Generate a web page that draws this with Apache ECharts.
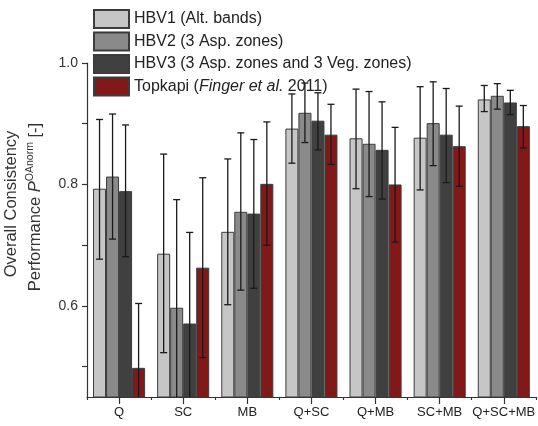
<!DOCTYPE html>
<html>
<head>
<meta charset="utf-8">
<script src="https://cdn.jsdelivr.net/npm/echarts@6/dist/echarts.min.js"></script>
<style>
  html, body { margin: 0; padding: 0; background: #fff; }
  #main { width: 538px; height: 426px; }
</style>
</head>
<body>
<div id="main"></div>
<script>
// categories and values
var categories = ['Q', 'SC', 'MB', 'Q+SC', 'Q+MB', 'SC+MB', 'Q+SC+MB'];
var seriesNames = ['HBV1 (Alt. bands)', 'HBV2 (3 Asp. zones)', 'HBV3 (3 Asp. zones and 3 Veg. zones)', 'Topkapi (Finger et al. 2011)'];

var hbv1 = [0.793, 0.686, 0.722, 0.892, 0.876, 0.877, 0.940];
var hbv1Low = [0.677, 0.523, 0.602, 0.835, 0.793, 0.791, 0.920];
var hbv1High = [0.907, 0.850, 0.842, 0.949, 0.957, 0.961, 0.963];

var hbv2 = [0.813, 0.597, 0.755, 0.918, 0.867, 0.901, 0.946];
var hbv2Low = [0.710, 0.419, 0.626, 0.869, 0.780, 0.831, 0.924];
var hbv2High = [0.916, 0.775, 0.885, 0.967, 0.953, 0.969, 0.966];

var hbv3 = [0.789, 0.571, 0.752, 0.905, 0.857, 0.882, 0.935];
var hbv3Low = [0.681, 0.421, 0.629, 0.857, 0.776, 0.803, 0.915];
var hbv3High = [0.898, 0.721, 0.874, 0.951, 0.936, 0.958, 0.955];

var topkapi = [0.498, 0.663, 0.801, 0.882, 0.800, 0.863, 0.896];
var topkapiLow = [0.392, 0.515, 0.700, 0.833, 0.705, 0.797, 0.860];
var topkapiHigh = [0.604, 0.811, 0.903, 0.932, 0.894, 0.929, 0.930];

var yTicks = [0.5, 0.6, 0.7, 0.8, 0.9, 1.0];
var yLabels = [0.6, 0.8, 1.0];

var colors = ['#c6c6c6', '#8a8a8a', '#404040', '#831818'];
var font = "'Liberation Sans', Arial, sans-serif";
var yMin = 0.45, yMax = 1.0;
var barFrac = 0.203;

var means = [hbv1, hbv2, hbv3, topkapi];
var lows = [hbv1Low, hbv2Low, hbv3Low, topkapiLow];
var highs = [hbv1High, hbv2High, hbv3High, topkapiHigh];

function errRender(k) {
  return function (params, api) {
    var c = api.value(0);
    var loRaw = api.value(1);
    var lo = Math.max(loRaw, yMin);
    var hi = api.value(2);
    var band = api.size([1, 0])[0];
    var bw = band * barFrac;
    var top = api.coord([c, hi]);
    var x = top[0] + (k - 1.5) * bw;
    var yHi = top[1];
    var yLo = api.coord([c, lo])[1];
    var cap = 3.5;
    var st = { stroke: '#1a1a1a', lineWidth: 1.3 };
    var kids = [
      { type: 'line', shape: { x1: x, y1: yHi, x2: x, y2: yLo }, style: st },
      { type: 'line', shape: { x1: x - cap, y1: yHi, x2: x + cap, y2: yHi }, style: st }
    ];
    if (loRaw >= yMin) {
      kids.push({ type: 'line', shape: { x1: x - cap, y1: yLo, x2: x + cap, y2: yLo }, style: st });
    }
    return { type: 'group', children: kids };
  };
}

var series = [];
for (var i = 0; i < 4; i++) {
  series.push({
    name: seriesNames[i],
    type: 'bar',
    xAxisIndex: 0,
    data: means[i],
    barWidth: (barFrac * 100) + '%',
    barGap: '0%',
    itemStyle: { color: colors[i], borderColor: '#3c3c3c', borderWidth: 1 },
    z: 2
  });
}
for (var k = 0; k < 4; k++) {
  var d = [];
  for (var j = 0; j < categories.length; j++) d.push([j, lows[k][j], highs[k][j]]);
  series.push({
    type: 'custom',
    xAxisIndex: 0,
    renderItem: errRender(k),
    data: d,
    encode: { x: 0, y: [1, 2] },
    z: 5,
    silent: true
  });
}

var chart = echarts.init(document.getElementById('main'));
chart.setOption({
  animation: false,
  backgroundColor: '#fff',
  grid: { left: 87, top: 63, width: 452, bottom: 29, containLabel: false },
  legend: {
    data: seriesNames,
    orient: 'vertical',
    left: 88,
    top: 4,
    itemWidth: 35,
    itemHeight: 18,
    itemGap: 2.5,
    icon: 'rect',
    formatter: function (n) {
      return n === seriesNames[3] ? 'Topkapi ({it|Finger et al.} 2011)' : n;
    },
    textStyle: {
      fontFamily: font, fontSize: 16, color: '#222',
      rich: { it: { fontFamily: font, fontSize: 16, fontStyle: 'italic', color: '#222' } }
    }
  },
  xAxis: [{
    type: 'category',
    data: categories,
    position: 'bottom',
    axisLine: { show: true, lineStyle: { color: '#333', width: 1.2 } },
    axisTick: { show: true, alignWithLabel: true, interval: 0, length: 7, lineStyle: { color: '#333', width: 1.2 } },
    axisLabel: { interval: 0, fontFamily: font, fontSize: 13, color: '#222', margin: 9 }
  }, {
    type: 'category',
    data: categories,
    position: 'bottom',
    offset: 0,
    axisLine: { show: false },
    axisTick: { show: true, alignWithLabel: false, interval: 0, length: 3, lineStyle: { color: '#333', width: 1.2 } },
    axisLabel: { show: false }
  }],
  yAxis: {
    type: 'value',
    min: yMin,
    max: yMax,
    axisLine: { show: true, lineStyle: { color: '#333', width: 1.2 } },
    axisTick: { show: true, length: 5, customValues: yTicks, lineStyle: { color: '#333', width: 1.2 } },
    axisLabel: {
      customValues: yLabels,
      formatter: function (v) { return v.toFixed(1); },
      fontFamily: font, fontSize: 14, color: '#333', margin: 9
    },
    splitLine: { show: false }
  },
  graphic: [{
    type: 'text',
    x: 11, y: 204,
    rotation: Math.PI / 2,
    style: {
      text: 'Overall Consistency',
      font: '16.5px ' + font,
      fill: '#333',
      align: 'center',
      verticalAlign: 'middle'
    }
  }, {
    type: 'text',
    x: 35, y: 207,
    rotation: Math.PI / 2,
    style: {
      text: 'Performance {it|P}{sup|OAnorm} [-]',
      font: '16.5px ' + font,
      fill: '#333',
      align: 'center',
      verticalAlign: 'middle',
      rich: {
        it: { font: 'italic 16.5px ' + font, fill: '#333' },
        sup: { font: '10.5px ' + font, fill: '#333', verticalAlign: 'top', padding: [0, 0, 9, 0] }
      }
    }
  }],
  series: series
});
</script>
</body>
</html>
